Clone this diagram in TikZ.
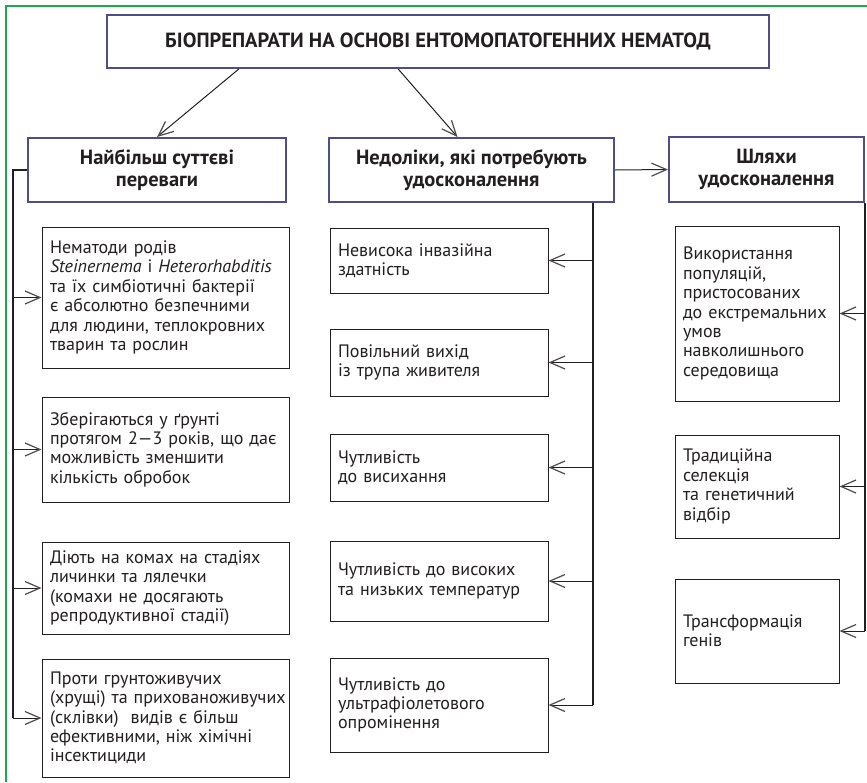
\documentclass[tikz,border=0pt]{standalone}
\usepackage{fontspec}
\setmainfont{PT Sans}
\usetikzlibrary{arrows.meta,calc}
\definecolor{framegreen}{HTML}{1DAA4F}
\definecolor{hdrblue}{HTML}{4E4E8E}
\definecolor{inkgray}{HTML}{231F20}

\begin{document}
\begin{tikzpicture}[x=1pt,y=-1pt,
  headnode/.style={rectangle, draw=hdrblue, line width=2pt, fill=white, text=inkgray, font=\fontsize{20.5}{21.5}\selectfont\bfseries, align=center, inner sep=0pt},
  itemnode/.style={rectangle, draw=inkgray, line width=1pt, fill=white, text=inkgray, font=\fontsize{18}{19.4}\selectfont, align=left, inner xsep=8pt, inner ysep=0pt},
  leftitem/.style={itemnode, text width=231pt},
  miditem/.style={itemnode, text width=202pt},
  rightitem/.style={itemnode, text width=148pt},
  arrowline/.style={draw=inkgray, line width=1pt, -{Straight Barb[length=15pt,width=13pt,line width=1.2pt,color=black!70]}},
  spineline/.style={draw=inkgray, line width=1.3pt}]

        \useasboundingbox (0,0) rectangle (867,782);
        \draw[framegreen, line width=2.5pt] (6,782) -- (6,6) -- (867,6);

        % headers
        \node[headnode, minimum width=662pt, minimum height=53pt] (title) at (438,41.5) {БІОПРЕПАРАТИ НА ОСНОВІ ЕНТОМОПАТОГЕННИХ НЕМАТОД};
        \node[headnode, minimum width=258pt, minimum height=64pt] (adv) at (157,170) {Найбільш суттєві\\переваги};
        \node[headnode, minimum width=285pt, minimum height=64pt] (dis) at (471.5,170) {Недоліки, які потребують\\удосконалення};
        \node[headnode, minimum width=195pt, minimum height=65pt] (way) at (766.5,169.5) {Шляхи\\удосконалення};

        % left column
        \node[leftitem, minimum height=141pt] (a1) at (165.5,297.5) {Нематоди родів\\\textit{Steinernema} і \textit{Heterorhabditis}\\та їх симбіотичні бактерії\\є абсолютно безпечними\\для людини, теплокровних\\тварин та рослин};
        \node[leftitem, minimum height=105pt] (a2) at (165.5,449.5) {Зберігаються у ґрунті\\протягом 2—3 років, що дає\\можливість зменшити\\кількість обробок};
        \node[leftitem, minimum height=92pt] (a3) at (165.5,588) {Діють на комах на стадіях\\личинки та лялечки\\(комахи не досягають\\репродуктивної стадії)};
        \node[leftitem, minimum height=118pt] (a4) at (165.5,718) {Проти грунтоживучих\\\mbox{(хрущі) та прихованоживучих}\\(склівки)\ \ видів є більш\\ефективними, ніж хімічні\\інсектициди};

        % middle column
        \node[miditem, minimum height=65pt] (d1) at (439,260.5) {Невисока інвазійна\\здатність};
        \node[miditem, minimum height=67pt] (d2) at (439,362.5) {Повільний вихід\\із трупа живителя};
        \node[miditem, minimum height=67pt] (d3) at (439,467.5) {Чутливість\\до висихання};
        \node[miditem, minimum height=80pt] (d4) at (439,581) {Чутливість до високих\\та низьких температур};
        \node[miditem, minimum height=94pt] (d5) at (439,705) {Чутливість до\\ультрафіолетового\\опромінення};

        % right column
        \node[rightitem, minimum height=175pt] (w1) at (757,313.5) {Використання\\популяцій,\\пристосованих\\до екстремальних\\умов\\навколишнього\\середовища};
        \node[rightitem, minimum height=103pt] (w2) at (757,486.5) {Традиційна\\селекція\\та генетичний\\відбір};
        \node[rightitem, minimum height=104pt] (w3) at (757,631) {Трансформація\\генів};

        \coordinate (lspine) at (13,172);
        \coordinate (mspine) at (593,202);

        % connectors
        \draw[arrowline] ($(title.south west)!0.2!(title.south east)$) -- (adv.north);
        \draw[arrowline] ($(title.south west)!0.44!(title.south east)$) -- ([xshift=-14pt]dis.north);
        \draw[arrowline] (dis.east) -- (way.west);

        \draw[spineline] (adv.west) -- (adv.west -| lspine) -- (lspine |- a4.west);
        \foreach \n in {a1,a2,a3,a4}
          \draw[arrowline] (lspine |- \n.west) -- (\n.west);

        \draw[spineline] (dis.south -| mspine) -- (mspine |- d5.east);
        \foreach \n in {d1,d2,d3,d4,d5}
          \draw[arrowline] (mspine |- \n.east) -- (\n.east);

        \draw[spineline] (way.south east) -- (way.south east |- w3.east);
        \foreach \n in {w1,w2,w3}
          \draw[arrowline] (way.south east |- \n.east) -- (\n.east);

\end{tikzpicture}
\end{document}
